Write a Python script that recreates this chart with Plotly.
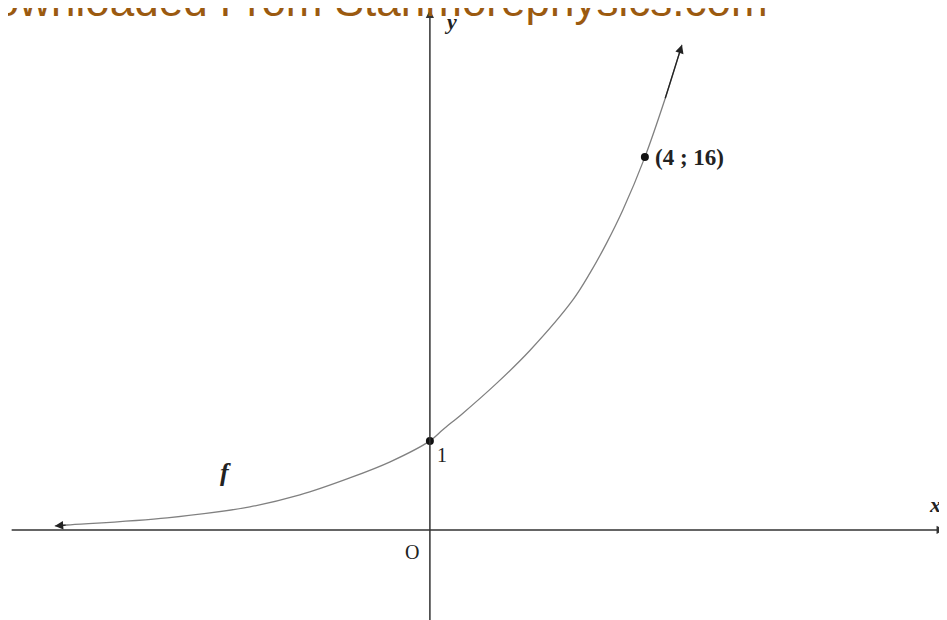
import plotly.graph_objects as go

# Sketch curve of f (in the chart's sketch units)
curve_x = [-6.98, -6.75, -4.89, -3.35, -2.42, -1.49, -0.74, 0.0, 0.24, 0.61, 1.25, 1.86, 2.66, 2.98, 3.29, 3.59, 4.0, 4.37, 4.69]
curve_y = [0.17, 0.21, 0.52, 0.99, 1.50, 2.23, 2.92, 3.82, 4.30, 5.00, 6.31, 7.70, 9.87, 11.03, 12.32, 13.73, 16.0, 18.46, 20.82]

# Marked points
point_x = [0.0, 4.0]
point_y = [3.82, 16.0]

# Text labels
label_text = ["y", "x", "1", "O", "f", "(4 ; 16)"]
label_x = [0.39, 9.40, 0.22, -0.33, -3.81, 4.15]
label_y = [21.8, 1.07, 3.22, -0.94, 2.45, 15.97]

# axis extents (sketch units)
x_range = [-7.85, 9.77]
y_range = [-4.21, 22.40]
x_axis_ends = [-7.81, 9.58]
y_axis_ends = [-4.21, 22.32]

fig = go.Figure()
fig.add_trace(go.Scatter(x=curve_x, y=curve_y, mode="lines",
                         line=dict(color="#808080", width=1.3, shape="spline", smoothing=1.0),
                         hoverinfo="skip", showlegend=False))
fig.add_trace(go.Scatter(x=point_x, y=point_y, mode="markers",
                         marker=dict(color="#111111", size=8),
                         hoverinfo="skip", showlegend=False))

anns = []
# axes with arrows
anns.append(dict(x=x_axis_ends[1], y=0, ax=x_axis_ends[0], ay=0, xref="x", yref="y",
                 axref="x", ayref="y", showarrow=True, arrowhead=2, arrowsize=1.1,
                 arrowwidth=1.5, arrowcolor="#333333", text="", standoff=0, startstandoff=0))
anns.append(dict(x=0, y=y_axis_ends[1], ax=0, ay=y_axis_ends[0], xref="x", yref="y",
                 axref="x", ayref="y", showarrow=True, arrowhead=2, arrowsize=1.1,
                 arrowwidth=1.5, arrowcolor="#333333", text="", standoff=0, startstandoff=0))
# curve end arrows
anns.append(dict(x=curve_x[0], y=curve_y[0], ax=curve_x[1], ay=curve_y[1], xref="x", yref="y",
                 axref="x", ayref="y", showarrow=True, arrowhead=2, arrowsize=1.3,
                 arrowwidth=1.3, arrowcolor="#222222", text="", standoff=0))
anns.append(dict(x=curve_x[-1], y=curve_y[-1], ax=curve_x[-2], ay=curve_y[-2], xref="x", yref="y",
                 axref="x", ayref="y", showarrow=True, arrowhead=2, arrowsize=1.3,
                 arrowwidth=1.3, arrowcolor="#222222", text="", standoff=0))

styles = {
    "y": dict(family="Liberation Serif", size=22, color="#222222"),
    "x": dict(family="Liberation Serif", size=22, color="#222222"),
    "1": dict(family="Liberation Serif", size=20, color="#222222"),
    "O": dict(family="Liberation Serif", size=20, color="#222222"),
    "f": dict(family="Liberation Serif", size=26, color="#222222"),
    "(4 ; 16)": dict(family="Liberation Serif", size=23, color="#222222"),
}
for t, lx, ly in zip(label_text, label_x, label_y):
    txt = t
    if t in ("x", "y", "f"):
        txt = "<i><b>" + t + "</b></i>"
    if t == "(4 ; 16)":
        txt = "<b>" + t + "</b>"
    anns.append(dict(x=lx, y=ly, xref="x", yref="y", text=txt, showarrow=False,
                     xanchor="left" if t == "(4 ; 16)" else "center", yanchor="middle",
                     font=styles[t]))

# watermark header (clipped at the top of the page)
anns.append(dict(x=-47 / 947, y=1, xref="paper", yref="paper", xanchor="left", yanchor="bottom",
                 yshift=-19, text="Downloaded From Stanmorephysics.com", showarrow=False,
                 font=dict(family="Liberation Sans", size=44, color="#9b5a10")))

fig.update_layout(
    width=947, height=620,
    margin=dict(l=0, r=0, t=0, b=0),
    paper_bgcolor="white", plot_bgcolor="white",
    xaxis=dict(range=x_range, visible=False, fixedrange=True),
    yaxis=dict(range=y_range, visible=False, fixedrange=True),
    annotations=anns,
    showlegend=False,
)

fig.write_html("out.html")
